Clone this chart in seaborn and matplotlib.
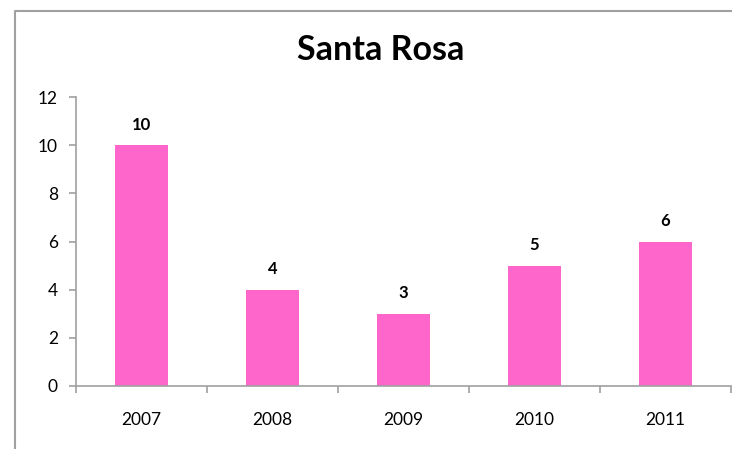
import matplotlib
matplotlib.use("Agg")
import matplotlib.pyplot as plt
from matplotlib.lines import Line2D
import seaborn as sns
import pandas as pd

years = ["2007", "2008", "2009", "2010", "2011"]
values = [10, 4, 3, 5, 6]
y_ticks = [0, 2, 4, 6, 8, 10, 12]
title = "Santa Rosa"

sns.set_theme(style="white")
plt.rcParams['font.family'] = ['Lato', 'DejaVu Sans']

W, H = 732, 449
fig = plt.figure(figsize=(W / 100, H / 100), dpi=100)
ax = fig.add_axes([76 / W, (H - 386) / H, (731 - 76) / W, (386 - 97) / H])

df = pd.DataFrame({"year": years, "value": values})
sns.barplot(data=df, x="year", y="value", color="#FF66CC", saturation=1,
            width=0.4, ax=ax, edgecolor="none")

ax.set_ylim(0, 12)
ax.set_xlim(-0.5, len(years) - 0.5)
ax.set_yticks(y_ticks)
ax.set_yticklabels([str(t) for t in y_ticks], fontsize=12.5, color="#000000")
ax.set_xticks(range(len(years)))
ax.set_xticklabels(years, fontsize=12.5, color="#000000")
ax.set_xlabel("")
ax.set_ylabel("")

spine_c = "#A0A0A0"
for s in ["top", "right"]:
    ax.spines[s].set_visible(False)
for s in ["left", "bottom"]:
    ax.spines[s].set_color(spine_c)
    ax.spines[s].set_linewidth(1.2)

ax.tick_params(axis="y", which="both", left=True, length=5, width=1.2,
               color=spine_c, pad=8, direction="out")
ax.tick_params(axis="x", which="both", bottom=False, pad=13)
# category boundary ticks on x axis
ax.set_xticks([i - 0.5 for i in range(len(years) + 1)], minor=True)
ax.tick_params(axis="x", which="minor", bottom=True, length=5, width=1.2,
               color=spine_c, direction="out")

for i, v in enumerate(values):
    ax.annotate(str(v), (i, v), xytext=(0, 9), textcoords="offset points",
                ha="center", va="bottom", fontsize=12, fontweight="bold",
                color="#000000")

fig.text(381 / W, 1 - 50 / H, title, ha="center", va="center",
         fontsize=24.5, fontweight="bold", color="#000000")

# outer chart border (left and top visible)
fig.add_artist(Line2D([14.5 / W, 14.5 / W, 1.0], [0.0, 1 - 10.5 / H, 1 - 10.5 / H],
                      transform=fig.transFigure, color="#A0A0A0", linewidth=1.5))

fig.savefig("out.png", dpi=100, facecolor="white")
